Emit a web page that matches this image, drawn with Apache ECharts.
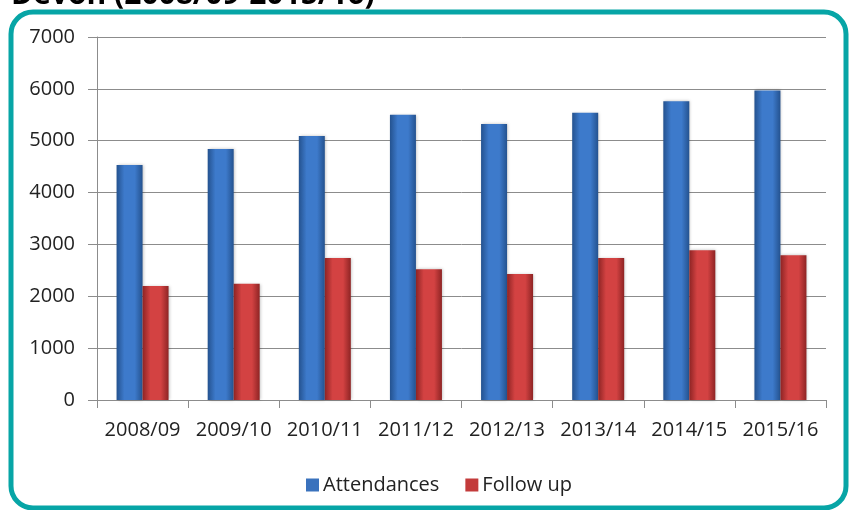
<!DOCTYPE html>
<html>
<head>
<meta charset="utf-8">
<script src="https://cdn.jsdelivr.net/npm/echarts@6/dist/echarts.min.js"></script>
<style>
  html, body { margin: 0; padding: 0; background: #fff; }
  #chart { width: 849px; height: 510px; }
</style>
</head>
<body>
<div id="chart"></div>
<script>
  // 年度
  var years = ['2008/09', '2009/10', '2010/11', '2011/12', '2012/13', '2013/14', '2014/15', '2015/16'];
  var attendances = [4530, 4840, 5090, 5500, 5320, 5540, 5760, 5970];
  var followUp = [2200, 2240, 2740, 2520, 2430, 2740, 2890, 2790];
  var yTicks = [0, 1000, 2000, 3000, 4000, 5000, 6000, 7000];

  var labelFont = '"Open Sans", sans-serif';

  function barGrad(edge, mid) {
    return new echarts.graphic.LinearGradient(0, 0, 1, 0, [
      {offset: 0, color: edge},
      {offset: 0.3, color: mid},
      {offset: 0.7, color: mid},
      {offset: 1, color: edge}
    ]);
  }

  var myChart = echarts.init(document.getElementById('chart'));
  myChart.setOption({
    animation: false,
    backgroundColor: '#fff',
    graphic: [
      {
        type: 'text',
        left: 11,
        top: -20,
        style: {
          text: 'Devon (2008/09-2015/16)',
          font: 'bold 30px "Open Sans", sans-serif',
          fill: '#000'
        }
      },
      {
        type: 'rect',
        shape: {x: 11, y: 12, width: 835, height: 496, r: 22},
        style: {fill: 'none', stroke: '#07a5a6', lineWidth: 5}
      }
    ],
    legend: {
      left: 301,
      top: 470,
      itemWidth: 13,
      itemHeight: 13,
      itemGap: 26,
      textStyle: {fontFamily: labelFont, fontSize: 20, color: '#222', padding: [0, 0, 0, -1]},
      data: [
        {name: 'Attendances', icon: 'rect', itemStyle: {color: '#3a72bd'}},
        {name: 'Follow up', icon: 'rect', itemStyle: {color: '#c33b3b'}}
      ]
    },
    grid: {left: 97, right: 23, top: 37, bottom: 110},
    xAxis: {
      type: 'category',
      data: years,
      axisLine: {lineStyle: {color: '#8c8c8c', width: 1}},
      axisTick: {show: true, length: 8, lineStyle: {color: '#8c8c8c'}},
      axisLabel: {fontFamily: labelFont, fontSize: 20, color: '#222', margin: 20, interval: 0}
    },
    yAxis: {
      type: 'value',
      min: yTicks[0],
      max: yTicks[yTicks.length - 1],
      interval: 1000,
      axisLine: {show: true, lineStyle: {color: '#8c8c8c'}},
      axisTick: {show: true, length: 9, lineStyle: {color: '#8c8c8c'}},
      splitLine: {lineStyle: {color: '#8c8c8c'}},
      axisLabel: {fontFamily: labelFont, fontSize: 20, color: '#222', margin: 22, formatter: function (v) { return String(v); }}
    },
    series: [
      {
        name: 'Attendances',
        type: 'bar',
        barWidth: 26,
        barGap: '0%',
        data: attendances,
        itemStyle: {color: barGrad('#24528f', '#3d7acb'), shadowColor: 'rgba(0,0,0,0.25)', shadowBlur: 3, shadowOffsetX: 1}
      },
      {
        name: 'Follow up',
        type: 'bar',
        barWidth: 26,
        data: followUp,
        itemStyle: {color: barGrad('#8e2424', '#d34242'), shadowColor: 'rgba(0,0,0,0.25)', shadowBlur: 3, shadowOffsetX: 1}
      }
    ]
  });
</script>
</body>
</html>
